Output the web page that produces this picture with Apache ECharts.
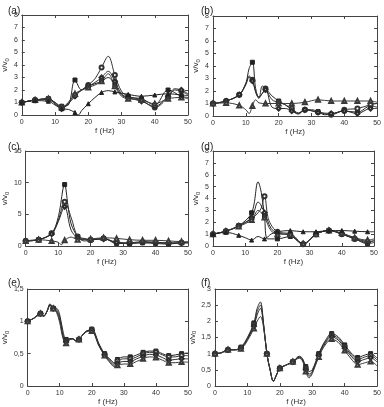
<!DOCTYPE html>
<html><head><meta charset="utf-8">
<script src="https://cdn.jsdelivr.net/npm/echarts@6/dist/echarts.min.js"></script>
<style>html,body{margin:0;padding:0;background:#fff}#c{width:384px;height:407px}</style>
</head><body><div id="c"></div>
<script>
// ---------- data: [f (Hz), v/v0] ----------
const xTickValues = [0, 10, 20, 30, 40, 50];
const panelLabels = ['(a)', '(b)', '(c)', '(d)', '(e)', '(f)'];
const yMaxes = [8, 8, 15, 8, 1.5, 3];
const yIntervals = [1, 1, 5, 1, 0.5, 0.5];

// (a)
const a1 = [[0,1.0],[4,1.2],[8,1.3],[10,1.0],[12,0.7],[14,0.8],[16,2.8],[18,2.0],[20,2.3],[22,2.5],[24,2.7],[26,3.0],[28,2.4],[30,1.6],[32,1.4],[36,1.3],[40,0.8],[44,2.0],[48,1.5],[50,1.4]];
const a2 = [[0,1.0],[4,1.2],[8,1.3],[10,1.0],[12,0.6],[14,1.0],[16,1.6],[18,2.0],[20,2.4],[22,2.9],[24,3.8],[26,4.7],[28,3.2],[30,1.9],[32,1.5],[36,1.2],[40,0.6],[44,1.4],[46,2.0],[48,1.9],[50,1.6]];
const a3 = [[0,1.0],[4,1.2],[8,1.25],[10,0.9],[12,0.5],[14,0.9],[16,1.5],[18,2.0],[20,2.3],[22,2.6],[24,3.0],[26,3.5],[28,2.7],[30,1.7],[32,1.4],[36,1.1],[40,0.7],[44,1.5],[46,2.1],[48,2.0],[50,1.7]];
const a4 = [[0,1.0],[4,1.2],[8,1.3],[10,0.9],[12,0.6],[14,1.0],[16,1.7],[18,2.0],[20,2.2],[22,2.4],[24,2.7],[26,3.3],[28,2.3],[30,1.5],[32,1.3],[36,1.2],[40,0.9],[44,1.3],[48,1.4],[50,1.3]];
const a5 = [[0,1.0],[4,1.15],[8,1.1],[10,0.8],[12,0.5],[14,0.45],[16,0.2],[17,0.0],[18,0.35],[20,0.9],[22,1.4],[24,1.8],[26,1.95],[28,1.85],[32,1.65],[36,1.5],[40,1.6],[44,1.7],[48,1.6],[50,1.55]];
// (b)
const b1 = [[0,1.0],[4,1.2],[8,1.7],[10,2.6],[11,3.8],[12,4.3],[13,2.2],[14,1.5],[15,1.8],[16,2.1],[18,1.6],[20,1.2],[22,0.9],[24,0.5],[26,0.2],[28,0.5],[30,0.5],[32,0.35],[34,0.1],[36,0.15],[40,0.4],[44,0.3],[48,0.8],[50,0.7]];
const b2 = [[0,1.0],[4,1.2],[8,1.7],[10,2.6],[11,3.2],[12,2.9],[13,1.9],[14,1.4],[15,2.4],[16,2.2],[18,1.3],[20,1.1],[22,0.9],[24,0.6],[26,0.25],[28,0.5],[32,0.3],[36,0.1],[40,0.5],[44,0.6],[48,0.9],[50,1.0]];
const b3 = [[0,1.0],[4,1.2],[8,1.7],[10,2.5],[11,3.1],[12,2.8],[14,1.5],[16,2.1],[18,0.7],[20,0.6],[22,0.6],[24,0.4],[26,0.15],[28,0.5],[32,0.3],[36,0.2],[40,0.4],[44,0.2],[48,0.6],[50,0.6]];
const b4 = [[0,1.0],[4,1.05],[8,0.85],[10,0.5],[11,0.2],[12,0.8],[13,1.3],[14,1.05],[16,1.0],[20,1.0],[24,1.0],[28,1.1],[32,1.3],[36,1.2],[40,1.2],[44,1.2],[48,1.2],[50,1.1]];
// (c)
const c1 = [[0,0.8],[4,1.0],[8,2.0],[10,4.5],[12,9.7],[13,6.5],[14,3.5],[16,1.5],[18,0.8],[20,0.9],[24,1.2],[28,0.4],[32,0.4],[36,0.5],[40,0.4],[44,0.3],[48,0.5],[50,0.5]];
const c2 = [[0,0.8],[4,1.0],[8,2.0],[10,4.0],[12,7.0],[14,4.5],[16,1.5],[18,1.2],[20,1.0],[24,1.2],[28,0.5],[32,0.4],[36,0.6],[40,0.5],[44,0.4],[48,0.5],[50,0.5]];
const c3 = [[0,0.8],[4,1.0],[8,1.9],[10,3.8],[12,6.2],[14,2.5],[16,1.3],[18,1.1],[20,1.0],[24,1.1],[28,0.6],[32,0.5],[36,0.7],[40,0.6],[44,0.5],[48,0.5],[50,0.6]];
const c4 = [[0,0.8],[4,1.0],[8,0.8],[10,0.6],[11,0.2],[12,0.9],[14,1.4],[16,1.0],[20,1.1],[24,1.3],[28,1.2],[32,1.0],[36,0.9],[40,0.9],[44,0.8],[48,0.7],[50,0.7]];
// (d)
const d1 = [[0,1.0],[4,1.25],[8,1.7],[12,2.8],[14,5.4],[15,4.5],[16,2.5],[17,0.6],[20,0.6],[24,0.8],[28,0.15],[32,1.0],[36,1.3],[40,1.0],[44,0.6],[48,0.2],[50,0.3]];
const d2 = [[0,1.0],[4,1.25],[8,1.7],[12,2.3],[14,2.8],[15,3.2],[16,4.2],[17,2.5],[18,1.8],[20,1.2],[24,1.0],[28,0.15],[32,1.0],[36,1.3],[40,1.0],[44,0.6],[48,0.3],[50,0.5]];
const d3 = [[0,1.0],[4,1.25],[8,1.7],[12,2.4],[14,3.7],[16,2.8],[18,1.5],[20,1.1],[24,0.9],[28,0.2],[32,1.0],[36,1.3],[40,1.05],[44,0.65],[48,0.4],[50,0.4]];
const d4 = [[0,1.0],[4,1.25],[8,1.65],[12,2.2],[14,3.0],[16,2.4],[18,1.3],[20,1.0],[24,1.0],[28,0.2],[32,1.0],[36,1.3],[40,1.1],[44,0.7],[48,0.5],[50,0.6]];
const d5 = [[0,1.0],[4,1.15],[8,0.9],[10,0.7],[12,0.5],[14,0.8],[16,0.6],[18,1.0],[20,1.2],[24,1.3],[28,1.2],[32,1.2],[36,1.3],[40,1.3],[44,1.25],[48,1.2],[50,1.2]];
// (e)
const e1 = [[0,1.0],[2,1.05],[4,1.12],[5,1.08],[6,1.15],[7,1.27],[8,1.2],[9,1.2],[10,1.1],[11,0.85],[12,0.72],[13,0.73],[14,0.73],[15,0.7],[16,0.72],[17,0.78],[18,0.84],[19,0.86],[20,0.88],[21,0.82],[22,0.68],[24,0.5],[26,0.4],[27,0.36],[28,0.41],[30,0.45],[32,0.45],[34,0.48],[36,0.52],[38,0.54],[40,0.54],[42,0.5],[44,0.47],[46,0.48],[48,0.5],[50,0.51]];
const e2 = [[0,1.0],[2,1.05],[4,1.12],[5,1.08],[6,1.15],[7,1.26],[8,1.2],[9,1.18],[10,1.06],[11,0.8],[12,0.7],[13,0.73],[14,0.73],[15,0.7],[16,0.72],[17,0.78],[18,0.84],[19,0.86],[20,0.87],[21,0.8],[22,0.66],[24,0.49],[26,0.38],[27,0.34],[28,0.39],[30,0.42],[32,0.42],[34,0.45],[36,0.5],[38,0.52],[40,0.52],[42,0.48],[44,0.45],[46,0.45],[48,0.47],[50,0.47]];
const e3 = [[0,1.0],[2,1.05],[4,1.12],[5,1.08],[6,1.15],[7,1.25],[8,1.2],[9,1.16],[10,1.02],[11,0.77],[12,0.68],[13,0.72],[14,0.73],[15,0.7],[16,0.72],[17,0.78],[18,0.83],[19,0.85],[20,0.86],[21,0.79],[22,0.65],[24,0.48],[26,0.36],[27,0.32],[28,0.35],[30,0.38],[32,0.38],[34,0.42],[36,0.46],[38,0.49],[40,0.48],[42,0.44],[44,0.4],[46,0.41],[48,0.42],[50,0.42]];
const e4 = [[0,1.0],[2,1.05],[4,1.12],[5,1.08],[6,1.15],[7,1.24],[8,1.2],[9,1.14],[10,0.98],[11,0.74],[12,0.66],[13,0.71],[14,0.73],[15,0.7],[16,0.72],[17,0.78],[18,0.83],[19,0.85],[20,0.85],[21,0.78],[22,0.64],[24,0.47],[26,0.34],[27,0.3],[28,0.32],[30,0.34],[32,0.34],[34,0.38],[36,0.42],[38,0.45],[40,0.44],[42,0.4],[44,0.36],[46,0.36],[48,0.37],[50,0.37]];
// (f)
const f1 = [[0,1.0],[2,1.03],[4,1.12],[6,1.12],[8,1.2],[10,1.5],[12,1.95],[13,2.4],[14,2.6],[15,1.9],[16,1.0],[17,0.5],[18,0.15],[19,0.35],[20,0.55],[22,0.65],[24,0.75],[26,0.92],[27,0.85],[28,0.6],[29,0.45],[30,0.5],[32,1.0],[34,1.4],[36,1.62],[38,1.52],[40,1.27],[42,1.02],[44,0.88],[46,0.95],[48,1.0],[50,0.86]];
const f2 = [[0,1.0],[2,1.03],[4,1.12],[6,1.12],[8,1.18],[10,1.47],[12,1.9],[13,2.3],[14,2.5],[15,1.9],[16,1.0],[17,0.5],[18,0.15],[19,0.35],[20,0.55],[22,0.65],[24,0.75],[26,0.9],[27,0.82],[28,0.55],[29,0.37],[30,0.45],[32,0.97],[34,1.36],[36,1.57],[38,1.47],[40,1.22],[42,0.97],[44,0.82],[46,0.89],[48,0.94],[50,0.8]];
const f3 = [[0,1.0],[2,1.03],[4,1.12],[6,1.12],[8,1.17],[10,1.44],[12,1.85],[13,2.2],[14,2.4],[15,1.85],[16,1.0],[17,0.5],[18,0.15],[19,0.35],[20,0.55],[22,0.65],[24,0.75],[26,0.88],[27,0.8],[28,0.5],[29,0.3],[30,0.42],[32,0.94],[34,1.32],[36,1.52],[38,1.42],[40,1.17],[42,0.92],[44,0.76],[46,0.82],[48,0.87],[50,0.74]];
const f4 = [[0,1.0],[2,1.03],[4,1.12],[6,1.12],[8,1.15],[10,1.4],[12,1.78],[13,2.0],[14,2.15],[15,1.8],[16,1.0],[17,0.5],[18,0.15],[19,0.35],[20,0.55],[22,0.65],[24,0.75],[26,0.86],[27,0.77],[28,0.45],[29,0.25],[30,0.38],[32,0.9],[34,1.27],[36,1.45],[38,1.35],[40,1.1],[42,0.84],[44,0.66],[46,0.71],[48,0.76],[50,0.62]];

const panelSeries = [[a1,a2,a3,a4,a5],[b1,b2,b3,b4],[c1,c2,c3,c4],[d1,d2,d3,d4,d5],[e1,e2,e3,e4],[f1,f2,f3,f4]];
// -------------------------------------------

const grids = [
  {left:21, top:15, width:167, height:100},
  {left:213, top:16, width:167, height:100},
  {left:21, top:151, width:167, height:95},
  {left:213, top:151, width:161, height:95},
  {left:22, top:289, width:166, height:97},
  {left:215, top:289, width:165, height:97}
];
const labelPos = [[3,1],[196,1],[3,137],[196,137],[3,273],[196,273]];
const symbols = ['rect','emptyCircle','emptyDiamond','emptyTriangle','triangle'];
const font = 'Liberation Sans, Arial, sans-serif';
const axisColor = '#444';
const lineColors = ['#222','#333','#2a2a2a','#3a3a3a','#222'];

const xAxes = [], yAxes = [], series = [], titles = [];
grids.forEach((g, i) => {
  const ymax = yMaxes[i], yint = yIntervals[i];
  const fmt = v => String(v).replace('.', ',');
  const common = {gridIndex:i, axisLine:{show:true, onZero:false, lineStyle:{color:axisColor, width:1}},
    axisTick:{show:true, inside:true, length:3, lineStyle:{color:axisColor}}, splitLine:{show:false}};
  xAxes.push(Object.assign({}, common, {type:'value', position:'bottom', min:0, max:50, interval:10,
    axisLabel:{fontSize:7, color:'#333', fontFamily:font, margin:4},
    name:'f (Hz)', nameLocation:'middle', nameGap:11,
    nameTextStyle:{fontSize:8, color:'#333', fontFamily:font}}));
  xAxes.push(Object.assign({}, common, {type:'value', position:'top', min:0, max:50, interval:10,
    axisLabel:{show:false}}));
  yAxes.push(Object.assign({}, common, {type:'value', position:'left', min:0, max:ymax, interval:yint,
    axisLabel:{fontSize:7, color:'#333', fontFamily:font, margin:4, formatter:fmt},
    name:'{v|v/v}{s|0}', nameLocation:'middle', nameGap:9,
    nameTextStyle:{fontFamily:font, color:'#333', rich:{v:{fontSize:8, fontFamily:font, color:'#333'}, s:{fontSize:6, fontFamily:font, color:'#333', padding:[4,0,0,0]}}}}));
  yAxes.push(Object.assign({}, common, {type:'value', position:'right', min:0, max:ymax, interval:yint,
    axisLabel:{show:false}}));
  titles.push({text:panelLabels[i], left:labelPos[i][0], top:labelPos[i][1],
    textStyle:{fontSize:10, fontWeight:'normal', color:'#222', fontFamily:font}});
  panelSeries[i].forEach((arr, k) => {
    series.push({type:'line', xAxisIndex:2*i, yAxisIndex:2*i, smooth:0.35,
      symbol:symbols[k % symbols.length], showAllSymbol:true,
      data:arr.map(p => ({value:p, symbolSize:(p[0] % 4 === 0 && p[0] < 50) ? 4 : 0})),
      lineStyle:{color:lineColors[k], width:1},
      itemStyle:{color:lineColors[k], borderColor:lineColors[k], borderWidth:1},
      animation:false, silent:true});
  });
});

const chart = echarts.init(document.getElementById('c'), null, {renderer:'canvas'});
chart.setOption({backgroundColor:'#fff', animation:false, title:titles, grid:grids, xAxis:xAxes, yAxis:yAxes, series:series});
</script></body></html>
